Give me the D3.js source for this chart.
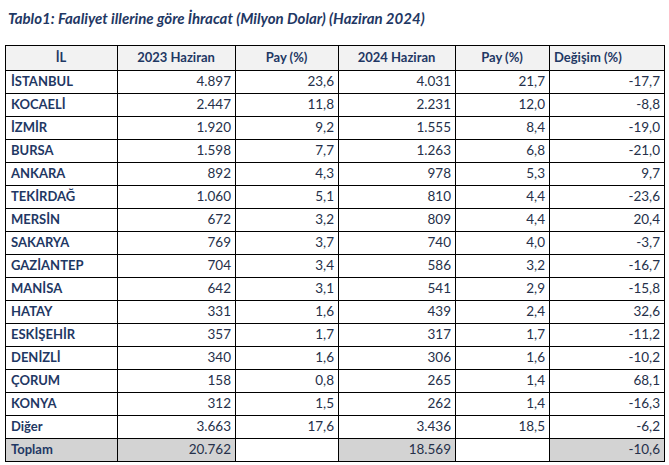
<!DOCTYPE html>
<html>
<head>
<meta charset="utf-8">
<script src="https://cdn.jsdelivr.net/npm/d3@7"></script>
<style>
  html, body { margin: 0; padding: 0; background: #fff; }
  svg { display: block; }
</style>
</head>
<body>
<div id="chart"></div>
<script>
const title = "Tablo1: Faaliyet illerine göre İhracat (Milyon Dolar) (Haziran 2024)";
const headers = ["İL", "2023 Haziran", "Pay (%)", "2024 Haziran", "Pay (%)", "Değişim (%)"];
const provinces = ["İSTANBUL", "KOCAELİ", "İZMİR", "BURSA", "ANKARA", "TEKİRDAĞ", "MERSİN", "SAKARYA",
    "GAZİANTEP", "MANİSA", "HATAY", "ESKİŞEHİR", "DENİZLİ", "ÇORUM", "KONYA", "Diğer"];
const export2023 = [4897, 2447, 1920, 1598, 892, 1060, 672, 769, 704, 642, 331, 357, 340, 158, 312, 3663];
const share2023 = [23.6, 11.8, 9.2, 7.7, 4.3, 5.1, 3.2, 3.7, 3.4, 3.1, 1.6, 1.7, 1.6, 0.8, 1.5, 17.6];
const export2024 = [4031, 2231, 1555, 1263, 978, 810, 809, 740, 586, 541, 439, 317, 306, 265, 262, 3436];
const share2024 = [21.7, 12.0, 8.4, 6.8, 5.3, 4.4, 4.4, 4.0, 3.2, 2.9, 2.4, 1.7, 1.6, 1.4, 1.4, 18.5];
const change = [-17.7, -8.8, -19.0, -21.0, 9.7, -23.6, 20.4, -3.7, -16.7, -15.8, 32.6, -11.2, -10.2, 68.1, -16.3, -6.2];
const totalLabel = "Toplam";
const total2023 = 20762;
const total2024 = 18569;
const totalChange = -10.6;

const width = 669, height = 465;
const navy = "#1f3864";
const ink = "#25304a";

const tr = d3.formatLocale({ decimal: ",", thousands: ".", grouping: [3], currency: ["", ""], minus: "-" });
const fInt = tr.format(",d");
const fDec = tr.format(",.1f");

// build rows
const rows = provinces.map((p, i) => ({
    name: p,
    cells: [fInt(export2023[i]), fDec(share2023[i]), fInt(export2024[i]), fDec(share2024[i]), fDec(change[i])],
    total: false
}));
rows.push({ name: totalLabel, cells: [fInt(total2023), "", fInt(total2024), "", fDec(totalChange)], total: true });

const svg = d3.select("#chart").append("svg")
    .attr("width", width)
    .attr("height", height)
    .style("font-family", "Lato, 'Open Sans', sans-serif");

svg.append("text")
    .attr("x", 8)
    .attr("y", 24)
    .attr("fill", navy)
    .style("font-size", "15px")
    .style("font-weight", "bold")
    .style("font-style", "italic")
    .text(title);

// column edges
const colEdges = [5, 117, 235, 338, 455, 549, 664];
const x = d3.scaleOrdinal().domain(d3.range(7)).range(colEdges);

const headerTop = 45, headerBottom = 70, tableBottom = 461;
const y = d3.scaleBand()
    .domain(rows.map(d => d.name))
    .range([headerBottom, tableBottom]);

const g = svg.append("g");

// header
headers.forEach((h, c) => {
    g.append("rect")
        .attr("x", x(c)).attr("y", headerTop)
        .attr("width", x(c + 1) - x(c)).attr("height", headerBottom - headerTop)
        .attr("fill", "#f2f2f2");
    const leftAlign = c === 5;
    g.append("text")
        .attr("x", leftAlign ? x(c) + 5 : (x(c) + x(c + 1)) / 2)
        .attr("y", (headerTop + headerBottom) / 2)
        .attr("dy", "0.36em")
        .attr("text-anchor", leftAlign ? "start" : "middle")
        .attr("fill", navy)
        .style("font-size", "13px")
        .style("font-weight", "bold")
        .text(h);
});

// body
const rowG = g.selectAll("g.row")
    .data(rows)
    .join("g")
    .attr("class", "row")
    .attr("transform", d => `translate(0,${y(d.name)})`);

rowG.filter(d => d.total).each(function (d) {
    const sel = d3.select(this);
    [0, 1, 3, 5].forEach(c => {
        sel.append("rect")
            .attr("x", x(c)).attr("y", 0)
            .attr("width", x(c + 1) - x(c)).attr("height", y.bandwidth())
            .attr("fill", "#d3d3d3");
    });
});

rowG.append("text")
    .attr("x", x(0) + 6)
    .attr("y", y.bandwidth() / 2)
    .attr("dy", "0.36em")
    .attr("fill", navy)
    .style("font-size", "13px")
    .style("font-weight", "bold")
    .text(d => d.name);

rowG.each(function (d) {
    const sel = d3.select(this);
    d.cells.forEach((v, i) => {
        sel.append("text")
            .attr("x", x(i + 2) - 4)
            .attr("y", y.bandwidth() / 2)
            .attr("dy", "0.36em")
            .attr("text-anchor", "end")
            .attr("fill", ink)
            .style("font-size", "13.5px")
            .text(v);
    });
});

// grid lines
const hLines = [headerTop, headerBottom].concat(rows.map(d => y(d.name) + y.bandwidth()));
g.selectAll("line.h")
    .data(hLines)
    .join("line")
    .attr("class", "h")
    .attr("x1", x(0)).attr("x2", x(6))
    .attr("y1", d => Math.round(d) + 0.5).attr("y2", d => Math.round(d) + 0.5)
    .attr("stroke", "#000").attr("stroke-width", 1);

g.selectAll("line.v")
    .data(d3.range(7))
    .join("line")
    .attr("class", "v")
    .attr("x1", d => x(d) + 0.5).attr("x2", d => x(d) + 0.5)
    .attr("y1", headerTop).attr("y2", Math.round(tableBottom) + 1)
    .attr("stroke", "#000").attr("stroke-width", 1);
</script>
</body>
</html>
